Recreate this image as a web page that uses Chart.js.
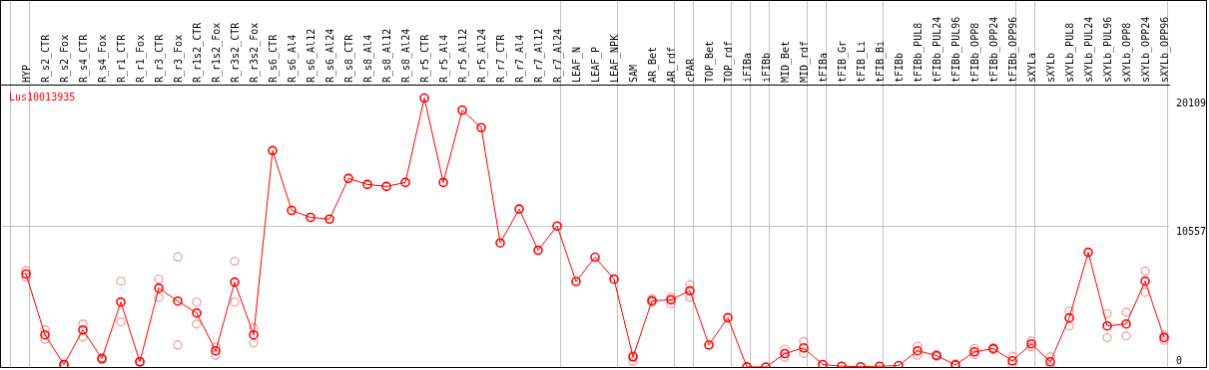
<!DOCTYPE html>
<html>
<head>
<meta charset="utf-8">
<script src="https://cdn.jsdelivr.net/npm/chart.js@4"></script>
<style>
  html, body { margin: 0; padding: 0; background: #fff; }
  #chart { display: block; border: 1px solid #000; }
</style>
</head>
<body>
<canvas id="chart" width="1207" height="368"></canvas>
<script>
// sample names along the top axis
const samples = ['HYP', 'R_s2_CTR', 'R_s2_Fox', 'R_s4_CTR', 'R_s4_Fox', 'R_r1_CTR', 'R_r1_Fox',
  'R_r3_CTR', 'R_r3_Fox', 'R_r1s2_CTR', 'R_r1s2_Fox', 'R_r3s2_CTR', 'R_r3s2_Fox',
  'R_s6_CTR', 'R_s6_Al4', 'R_s6_Al12', 'R_s6_Al24', 'R_s8_CTR', 'R_s8_Al4', 'R_s8_Al12', 'R_s8_Al24',
  'R_r5_CTR', 'R_r5_Al4', 'R_r5_Al12', 'R_r5_Al24', 'R_r7_CTR', 'R_r7_Al4', 'R_r7_Al12', 'R_r7_Al24',
  'LEAF_N', 'LEAF_P', 'LEAF_NPK', 'SAM', 'AR_Bet', 'AR_rdf', 'cPAR', 'TOP_Bet', 'TOP_rdf',
  'iFIBa', 'iFIBb', 'MID_Bet', 'MID_rdf', 'tFIBa', 'tFIB_Gr', 'tFIB_Li', 'tFIB_Bi',
  'tFIBb', 'tFIBb_PUL8', 'tFIBb_PUL24', 'tFIBb_PUL96', 'tFIBb_OPP8', 'tFIBb_OPP24', 'tFIBb_OPP96',
  'sXYLa', 'sXYLb', 'sXYLb_PUL8', 'sXYLb_PUL24', 'sXYLb_PUL96', 'sXYLb_OPP8', 'sXYLb_OPP24', 'sXYLb_OPP96'];

// mean expression (red line)
const meanValues = [6950, 2400, 190, 2770, 630, 4860, 390, 5900, 4930, 4040, 1210, 6350, 2400,
  16180, 11710, 11190, 11060, 14100, 13650, 13500, 13800,
  20109, 13800, 19200, 17900, 9280, 11810, 8730, 10540,
  6390, 8210, 6570, 760, 4950, 5030, 5700, 1650, 3690,
  10, 0, 1000, 1430, 190, 60, 20, 60,
  110, 1210, 860, 160, 1130, 1380, 460,
  1730, 390, 3670, 8580, 3070, 3220, 6420, 2200];

// single replicates (faint circles)
const repA = [7210, 2790, 190, 3220, 700, 6420, 420, 6570, 8230, 4860, 1500, 7910, 2940,
  null, null, null, null, null, null, null, null,
  null, null, null, null, null, null, null, null,
  null, null, null, 880, 5100, 5230, 6150, null, null,
  null, null, 1330, 1920, null, null, null, null,
  null, 1550, 930, 240, 1380, 1450, 800,
  1950, 760, 4190, null, 3990, 4110, 7170, 2370];
const repB = [6720, 2070, 150, 2250, 560, 3370, 360, 5200, 1650, 3220, 880, 4860, 1800,
  null, null, null, null, null, null, null, null,
  null, null, null, null, null, null, null, null,
  null, null, null, 430, 4860, 4730, 5200, null, null,
  null, null, 730, 1010, null, null, null, null,
  null, 880, 800, null, 930, 1300, 190,
  1500, 20, 3070, null, 2200, 2320, 5600, 2000];

// sample index after which a separator line is drawn
const groupEnds = [-1, 0, 28, 31, 34, 35, 37, 38, 39, 41, 42, 45, 52, 53, 60];

// right axis labels
const yTicks = [0, 10557, 20109];
const yMax = 20109 * 1.05;

const geneName = 'Lus10013935';

const font = { family: 'DejaVu Sans Mono', size: 10 };
const sepOffset = 0.21;
const repColor = 'rgba(225,95,95,0.55)';

function points(arr) {
  return arr.map((v, i) => ({ x: i, y: v }));
}

// keep the plot area flush with the frame
function noPadding(scale) {
  scale.paddingLeft = 0;
  scale.paddingRight = 0;
  scale.paddingTop = 0;
  scale.paddingBottom = 0;
}

const geneLabel = {
  id: 'geneLabel',
  afterDraw(chart) {
    const ctx = chart.ctx;
    const area = chart.chartArea;
    ctx.save();
    ctx.font = '10px "DejaVu Sans Mono"';
    ctx.fillStyle = '#ff0000';
    ctx.textBaseline = 'middle';
    ctx.fillText(geneName, area.left + 8, area.top + 13);
    ctx.restore();
  }
};

const ctx = document.getElementById('chart').getContext('2d');
const geneChart = new Chart(ctx, {
  type: 'line',
  data: {
    datasets: [
      {
        label: 'mean',
        data: points(meanValues),
        borderColor: '#ff0000',
        borderWidth: 1,
        pointRadius: 4,
        pointBorderWidth: 1.6,
        pointBorderColor: '#ff0000',
        pointBackgroundColor: 'rgba(0,0,0,0)',
        tension: 0
      },
      {
        label: 'rep A',
        data: points(repA),
        showLine: false,
        pointRadius: 4,
        pointBorderWidth: 1.4,
        pointBorderColor: repColor,
        pointBackgroundColor: 'rgba(0,0,0,0)'
      },
      {
        label: 'rep B',
        data: points(repB),
        showLine: false,
        pointRadius: 4,
        pointBorderWidth: 1.4,
        pointBorderColor: repColor,
        pointBackgroundColor: 'rgba(0,0,0,0)'
      }
    ]
  },
  options: {
    responsive: false,
    animation: false,
    devicePixelRatio: 1,
    layout: { padding: 0, autoPadding: false },
    plugins: {
      legend: { display: false },
      tooltip: { enabled: false }
    },
    scales: {
      x: {
        type: 'linear',
        position: 'top',
        min: -1.316,
        max: 60.263,
        afterBuildTicks: scale => {
          const vals = samples.map((_, i) => i).concat(groupEnds.map(g => g + sepOffset));
          vals.sort((a, b) => a - b);
          scale.ticks = vals.map(v => ({ value: v }));
        },
        afterFit: scale => { scale.height = 84; noPadding(scale); },
        ticks: {
          autoSkip: false,
          minRotation: 90,
          maxRotation: 90,
          padding: -82,
          labelOffset: 13,
          color: '#000',
          font: font,
          callback: v => (Number.isInteger(v) && samples[v] ? samples[v] : '')
        },
        grid: {
          color: c => (c.tick && !Number.isInteger(c.tick.value) ? '#c4c4c4' : 'rgba(0,0,0,0)'),
          lineWidth: 1,
          drawTicks: true,
          tickLength: 84
        },
        border: { display: true, color: '#000', width: 1 }
      },
      y: {
        position: 'right',
        min: 0,
        max: yMax,
        afterBuildTicks: scale => { scale.ticks = yTicks.map(v => ({ value: v })); },
        afterFit: scale => { scale.width = 37; noPadding(scale); },
        ticks: {
          color: '#000',
          font: font,
          padding: 7,
          // push the top labels under their value and the zero label above the edge
          callback: v => (v === 0 ? ['0', ''] : ['', String(v)])
        },
        grid: {
          color: c => (c.tick && c.tick.value === 10557 ? '#c4c4c4' : 'rgba(0,0,0,0)'),
          drawTicks: false
        },
        border: { display: false }
      }
    }
  },
  plugins: [geneLabel]
});
</script>
</body>
</html>
